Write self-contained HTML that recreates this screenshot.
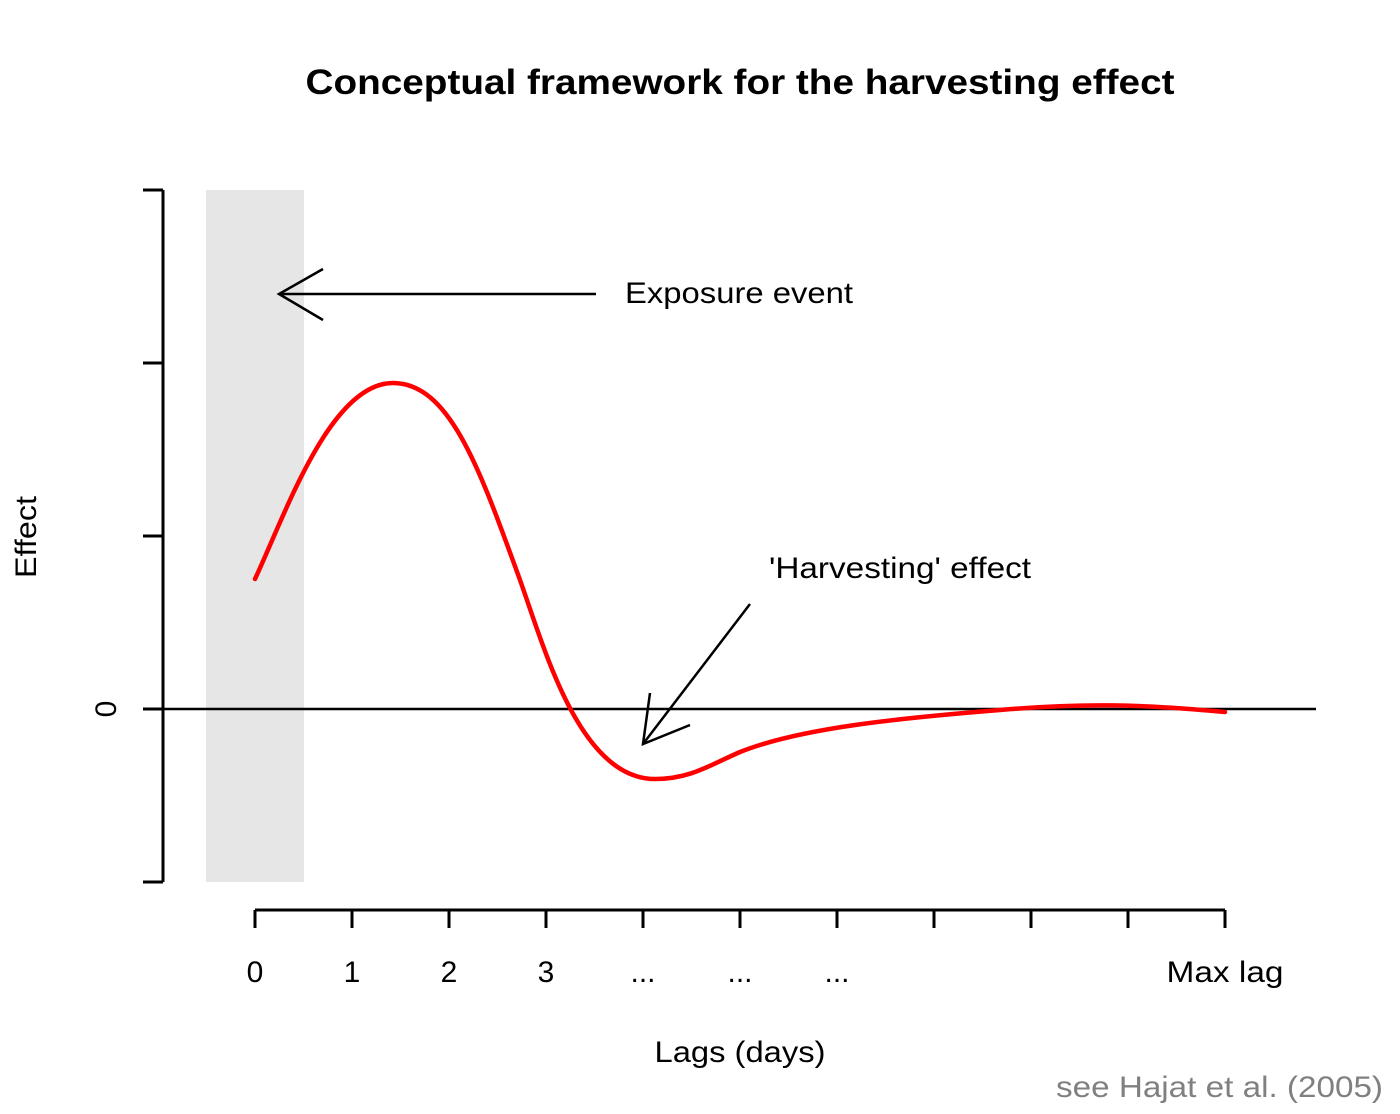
<!DOCTYPE html>
<html><head><meta charset="utf-8"><style>html,body{margin:0;padding:0;background:#fff}svg{display:block}</style></head>
<body>
<svg width="1400" height="1114" viewBox="0 0 1400 1114" xmlns="http://www.w3.org/2000/svg" font-family="Liberation Sans, Arial, sans-serif">
<rect x="0" y="0" width="1400" height="1114" fill="#fff"/>
<text x="740" y="94" font-size="35" font-weight="bold" text-anchor="middle" textLength="869" lengthAdjust="spacingAndGlyphs">Conceptual framework for the harvesting effect</text>
<rect x="206" y="190" width="98" height="692" fill="#e6e6e6"/>
<g stroke="#000" stroke-width="3" fill="none">
<path d="M163,190 V882 M143,190 H163 M143,363 H163 M143,536 H163 M143,709 H163 M143,882 H163"/>
<path d="M255,910 H1225"/>
<path d="M255,910V928 M352,910V928 M449,910V928 M546,910V928 M643,910V928 M740,910V928 M837,910V928 M934,910V928 M1031,910V928 M1128,910V928 M1225,910V928"/>
</g>
<line x1="143" y1="709" x2="1316" y2="709" stroke="#000" stroke-width="2.5"/>
<g stroke="#000" stroke-width="2.5" fill="none">
<path d="M596,294 H279 M323,269 L279,294 L323,320"/>
<path d="M750,604 L643,744 M650,693 L643,744 L690,725"/>
</g>
<path d="M255,579 C285,515 330,383 393,383 C450,383 480,470 520,580 C545,650 580,779 655,779 C690,779 710,765 740,752 C800,728 900,718 1000,710 C1080,703 1140,704 1225,712" stroke="#ff0000" stroke-width="4.5" fill="none" stroke-linecap="round"/>
<g font-size="30" fill="#000">
<text x="625" y="303" textLength="228" lengthAdjust="spacingAndGlyphs">Exposure event</text>
<text x="769" y="578" textLength="262" lengthAdjust="spacingAndGlyphs">'Harvesting' effect</text>
<g text-anchor="middle">
<text x="255" y="982">0</text>
<text x="352" y="982">1</text>
<text x="449" y="982">2</text>
<text x="546" y="982">3</text>
<text x="643" y="982">...</text>
<text x="740" y="982">...</text>
<text x="837" y="982">...</text>
<text x="1225" y="982" textLength="117" lengthAdjust="spacingAndGlyphs">Max lag</text>
<text x="740" y="1062" textLength="171" lengthAdjust="spacingAndGlyphs">Lags (days)</text>
</g>
<text transform="translate(36,537) rotate(-90)" text-anchor="middle" textLength="82" lengthAdjust="spacingAndGlyphs">Effect</text>
<text transform="translate(116,709) rotate(-90)" text-anchor="middle">0</text>
<text x="1383" y="1097" text-anchor="end" fill="#808080" textLength="327" lengthAdjust="spacingAndGlyphs">see Hajat et al. (2005)</text>
</g>
</svg>
</body></html>
